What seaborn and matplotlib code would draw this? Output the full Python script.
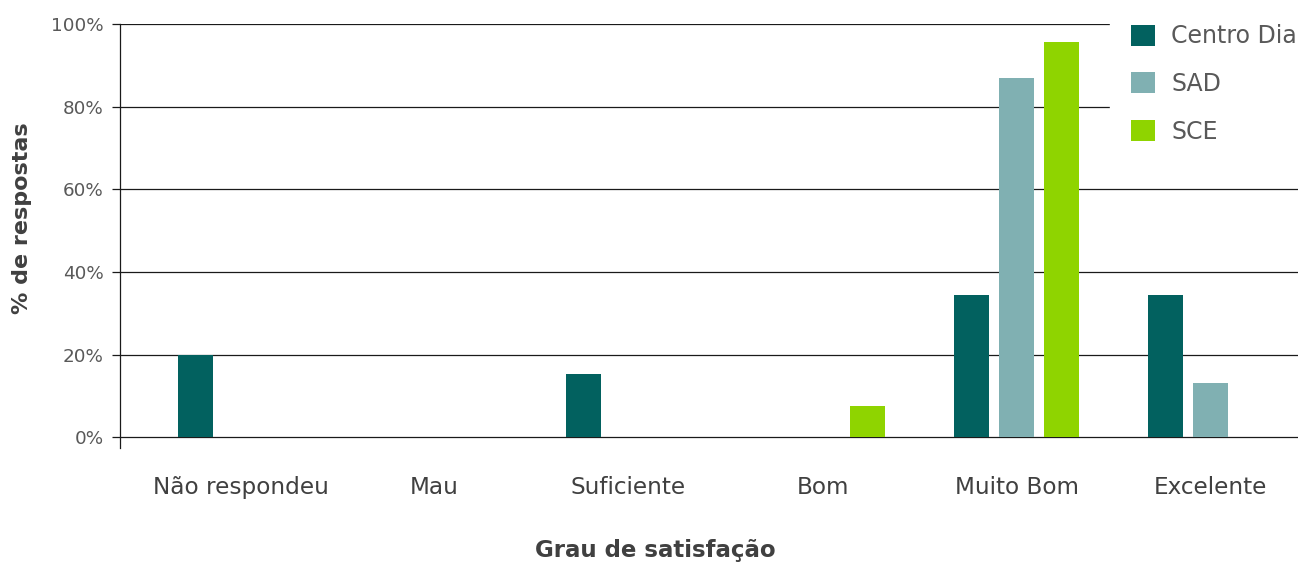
import matplotlib
matplotlib.use("Agg")
import matplotlib.pyplot as plt
import seaborn as sns
import pandas as pd
from matplotlib.ticker import FuncFormatter

categories = ["Não respondeu", "Mau", "Suficiente", "Bom", "Muito Bom", "Excelente"]
series = ["Centro Dia", "SAD", "SCE"]
centro_dia = [20.0, 0.0, 15.3, 0.0, 34.5, 34.5]
sad = [0.0, 0.0, 0.0, 0.0, 86.9, 13.2]
sce = [0.0, 0.0, 0.0, 7.5, 95.6, 0.0]
colors = ["#02615F", "#80B0B2", "#8FD400"]
y_ticks = [0, 20, 40, 60, 80, 100]

rows = []
for s, vals in zip(series, [centro_dia, sad, sce]):
    for c, v in zip(categories, vals):
        rows.append({"cat": c, "serie": s, "val": v})
df = pd.DataFrame(rows)

sns.set_theme(style="white")
plt.rcParams["font.family"] = ["DejaVu Sans"]

fig = plt.figure(figsize=(13, 5.63), dpi=100)
ax = fig.add_axes([0.0923, 0.2043, 0.9062, 0.7531])

sns.barplot(data=df, x="cat", y="val", hue="serie", order=categories,
            hue_order=series, palette=colors, width=0.696, gap=0.224,
            saturation=1, errorbar=None, ax=ax, legend=True,
            linewidth=0, edgecolor="none")

ax.set_xlim(-0.621, 5.451)
ax.set_ylim(-2.6, 100)
ax.set_yticks(y_ticks)
ax.yaxis.set_major_formatter(FuncFormatter(lambda v, p: f"{int(v)}%"))
ax.set_axisbelow(True)
ax.yaxis.grid(True, color="#1a1a1a", linewidth=0.9)
ax.xaxis.grid(False)

for sp in ["top", "right", "bottom"]:
    ax.spines[sp].set_visible(False)
ax.spines["left"].set_color("#1a1a1a")
ax.spines["left"].set_linewidth(0.9)

ax.tick_params(axis="y", which="major", left=True, length=5.8, width=0.9,
               color="#1a1a1a", labelsize=13.2, labelcolor="#595959", pad=6)
ax.tick_params(axis="x", which="major", bottom=False, length=0,
               labelsize=16.7, labelcolor="#404040", pad=20.5)

ax.set_xlabel("Grau de satisfação", fontsize=16.5, fontweight="bold",
              color="#404040", labelpad=29)
ax.xaxis.set_label_coords((655 - 120) / 1178, -0.215)
ax.set_ylabel("% de respostas", fontsize=16, fontweight="bold",
              color="#404040")
ax.yaxis.set_label_coords(-0.0747, (448 - 218) / 424)

leg = ax.legend(loc="upper left", bbox_to_anchor=(1110 / 1300, 1 - 3.3 / 563),
                bbox_transform=fig.transFigure, frameon=True, fontsize=17,
                handlelength=1.0, handleheight=1.0, handletextpad=0.7,
                labelspacing=1.0, borderpad=0.89, borderaxespad=0)
leg.get_frame().set_facecolor("white")
leg.get_frame().set_edgecolor("white")
leg.get_frame().set_alpha(1)
for t in leg.get_texts():
    t.set_color("#595959")

fig.savefig("out.png", dpi=100)
